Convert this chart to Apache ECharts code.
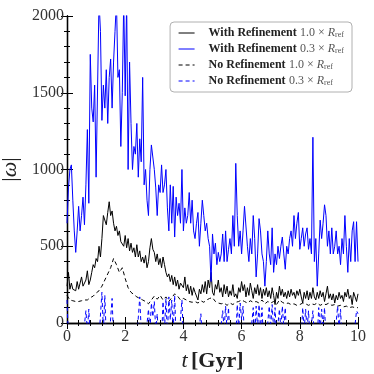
<!DOCTYPE html>
<html>
<head>
<meta charset="utf-8">
<script src="https://cdn.jsdelivr.net/npm/echarts@6/dist/echarts.min.js"></script>
<style>
  html, body { margin: 0; padding: 0; background: #fff; }
  #chart { width: 374px; height: 374px; }
</style>
</head>
<body>
<div id="chart"></div>
<script>
  // sampling step of the runs, Gyr
  const stepFine = 0.05;
  const stepCoarse = 0.1;

  const xTicks = [0, 2, 4, 6, 8, 10];
  const yTicks = [0, 500, 1000, 1500, 2000];

  // With Refinement 0.3 x R_ref (step 0.05)
  const withRef03 = [
    650, 880, 1000, 1030, 800, 600, 460, 600, 760, 600, 700, 820, 640, 900, 1260, 780, 1750, 1400, 1310, 1550,
    950, 940, 2100, 1900, 1320, 1550, 1400, 1650, 1300, 1600, 1720, 1400, 1700, 1900, 2100, 1600, 1650, 1150, 1500, 2100,
    1480, 2100, 1000, 1700, 1300, 1000, 1150, 1100, 1300, 950, 1200, 1050, 1600, 900, 1000, 800, 700, 1000, 1160, 1150,
    1000, 880, 700, 900, 850, 1030, 850, 900, 1000, 750, 600, 900, 650, 890, 560, 820, 700, 780, 650, 1000,
    600, 750, 650, 700, 850, 650, 800, 600, 550, 650, 720, 500, 650, 800, 700, 600, 650, 550, 500, 270,
    580, 450, 520, 380, 460, 400, 450, 580, 400, 600, 400, 480, 550, 450, 700, 500, 1040, 700, 500, 600,
    450, 600, 760, 750, 500, 400, 550, 450, 700, 550, 300, 450, 680, 600, 450, 400, 240, 400, 600, 450,
    380, 620, 330, 450, 380, 500, 420, 500, 560, 450, 350, 500, 450, 550, 600, 500, 700, 550, 650, 720,
    480, 550, 620, 500, 580, 620, 480, 550, 450, 1210, 400, 550, 240, 450, 670, 550, 650, 770, 700, 500,
    600, 450, 620, 450, 500, 600, 450, 500, 380, 550, 450, 700, 500, 330, 550, 400, 600, 660, 400, 660,
    400
  ];

  // With Refinement 1.0 x R_ref (step 0.05)
  const withRef10 = [
    240, 330, 220, 260, 220, 230, 210, 270, 220, 230, 300, 240, 230, 280, 340, 250, 280, 330, 380, 360,
    420, 400, 500, 430, 550, 700, 690, 640, 720, 790, 700, 730, 650, 600, 630, 570, 600, 530, 540, 500,
    570, 490, 550, 470, 520, 460, 490, 430, 510, 430, 470, 400, 430, 390, 440, 360, 400, 490, 550, 480,
    460, 400, 450, 380, 420, 360, 430, 380, 330, 300, 320, 270, 310, 250, 300, 240, 280, 220, 260, 250,
    230, 300, 210, 250, 190, 240, 180, 230, 200, 210, 150, 220, 190, 250, 200, 270, 190, 280, 230, 330,
    200, 180, 250, 220, 280, 200, 230, 170, 250, 190, 240, 170, 210, 180, 250, 170, 190, 160, 230, 200,
    270, 210, 250, 170, 230, 180, 260, 210, 160, 230, 190, 250, 180, 230, 160, 220, 180, 230, 170, 210,
    160, 230, 180, 120, 200, 160, 240, 180, 220, 170, 200, 160, 210, 170, 220, 180, 200, 160, 210, 180,
    220, 170, 130, 200, 160, 210, 150, 200, 160, 230, 170, 150, 200, 160, 210, 170, 200, 140, 190, 240,
    160, 190, 150, 190, 130, 180, 150, 200, 160, 180, 140, 200, 170, 220, 160, 180, 120, 200, 170, 140,
    190
  ];

  // No Refinement 1.0 x R_ref (step 0.1)
  const noRef10 = [
    180, 150, 145, 140, 140, 145, 150, 150, 165, 175,
    195, 210, 240, 280, 320, 360, 420, 380, 330, 360,
    290, 230, 200, 185, 170, 160, 150, 140, 125, 150,
    175, 155, 180, 150, 170, 140, 165, 190, 175, 150,
    160, 150, 140, 135, 140, 130, 145, 135, 150, 160,
    165, 140, 130, 125, 130, 115, 130, 120, 135, 140,
    150, 140, 130, 145, 135, 140, 130, 150, 125, 140,
    130, 140, 120, 150, 135, 125, 130, 120, 125, 115,
    120, 130, 125, 115, 125, 120, 130, 115, 125, 120,
    130, 115, 120, 110, 115, 105, 110, 100, 105, 100,
    100
  ];

  // No Refinement 0.3 x R_ref (step 0.05), mostly below the axis
  const noRef03 = [
    150, -100, -100, -100, -100, -100, -100, -100, -100, -100, -100, -100, -100, 80, -50, 90, -100, -100, -100, -100,
    -100, -100, -100, -100, 200, -50, 180, -100, -100, -100, -100, 160, -100, -100, -100, -100, -100, -100, -100, -100,
    -100, -100, -100, -100, -100, -100, -100, -100, -100, -100, 170, -50, -100, -100, -100, -100, 90, -50, 130, 40,
    140, -50, 60, -100, -100, -100, 140, -50, 160, -80, 170, 20, 150, -50, 180, -100, -100, -100, -100, 150,
    -100, -100, -100, -100, -100, -100, -100, -100, -100, -100, -100, -100, 60, -100, -100, -100, -100, -100, -100, -100,
    -100, -100, -100, -100, -100, -100, -100, 80, -40, 110, -50, 100, -100, -100, -100, -100, -100, 120, -40, 130,
    20, 110, -100, -100, -100, -100, -100, -100, 100, -100, 110, -30, 120, -40, 100, -100, -100, -100, -100, 110,
    -30, 120, -50, 100, -100, -100, 90, -40, 110, -30, 100, -100, -100, -100, -100, -100, -100, -100, -100, -100,
    -100, -100, 100, -50, 90, -40, 80, -100, -100, 80, -100, -100, -100, 100, -40, 90, -30, 100, -100, -100,
    -100, -100, -100, -100, -100, -100, 110, -40, 90, -100, -100, -100, -100, -100, -100, -100, -100, -100, -100, 80,
    60
  ];

  function toPairs(vals, step) {
    return vals.map((v, i) => [+(i * step).toFixed(2), v]);
  }

  const serif = 'Liberation Serif';
  const legendNames = {
    'With Refinement 1.0': '{b|With Refinement} {n|1.0 × }{i|R}{s|ref}',
    'With Refinement 0.3': '{b|With Refinement} {n|0.3 × }{i|R}{s|ref}',
    'No Refinement 1.0': '{b|No Refinement} {n|1.0 × }{i|R}{s|ref}',
    'No Refinement 0.3': '{b|No Refinement} {n|0.3 × }{i|R}{s|ref}'
  };

  const tickStyle = { inside: true, length: 6, lineStyle: { color: '#000', width: 1 } };
  const minorStyle = { show: true, splitNumber: 5, length: 3, lineStyle: { color: '#000', width: 1 } };
  const lineAxis = { show: true, lineStyle: { color: '#000', width: 1.3 } };

  const chart = echarts.init(document.getElementById('chart'));
  chart.setOption({
    backgroundColor: '#fff',
    animation: false,
    grid: { left: 67, right: 16, top: 16, bottom: 51, containLabel: false, outerBoundsMode: 'none' },
    legend: {
      orient: 'vertical',
      right: 22,
      top: 22,
      padding: [5, 8, 5, 8],
      itemGap: 4,
      itemWidth: 16,
      itemHeight: 10,
      backgroundColor: '#fff',
      borderColor: '#b0b0b0',
      borderWidth: 1,
      borderRadius: 4,
      itemStyle: { opacity: 0 },
      lineStyle: { width: 1 },
      data: Object.keys(legendNames),
      formatter: name => legendNames[name],
      textStyle: {
        rich: {
          b: { fontFamily: serif, fontWeight: 'bold', fontSize: 12, color: '#222', padding: [0, 0, 0, 9] },
          n: { fontFamily: serif, fontSize: 12, color: '#555' },
          i: { fontFamily: serif, fontStyle: 'italic', fontSize: 12, color: '#555' },
          s: { fontFamily: serif, fontSize: 8, color: '#555', verticalAlign: 'bottom', padding: [4, 0, 0, 0] }
        }
      }
    },
    xAxis: [
      {
        type: 'value', min: 0, max: 10, interval: 2,
        axisLine: lineAxis, axisTick: tickStyle, minorTick: minorStyle,
        splitLine: { show: false },
        axisLabel: { fontFamily: serif, fontSize: 16, color: '#333', margin: 6,
          formatter: v => xTicks.includes(v) ? String(v) : '' },
        name: '{i|t} {b|[Gyr]}',
        nameLocation: 'middle',
        nameGap: 22,
        nameTextStyle: {
          rich: {
            i: { fontFamily: serif, fontStyle: 'italic', fontSize: 22, color: '#222' },
            b: { fontFamily: serif, fontWeight: 'bold', fontSize: 22, color: '#222' }
          }
        }
      },
      {
        type: 'value', position: 'top', min: 0, max: 10, interval: 2,
        axisLine: lineAxis, axisTick: tickStyle, minorTick: minorStyle,
        splitLine: { show: false }, axisLabel: { show: false }
      }
    ],
    yAxis: [
      {
        type: 'value', min: 0, max: 2000, interval: 500,
        axisLine: lineAxis, axisTick: tickStyle, minorTick: minorStyle,
        splitLine: { show: false },
        axisLabel: { fontFamily: serif, fontSize: 16, color: '#333', margin: 3,
          formatter: v => yTicks.includes(v) ? String(v) : '' },
        name: '{a||}{w|ω}{a||}',
        nameLocation: 'middle',
        nameGap: 38,
        nameTextStyle: {
          rich: {
            a: { fontFamily: serif, fontSize: 22, color: '#222' },
            w: { fontFamily: serif, fontStyle: 'italic', fontSize: 22, color: '#222' }
          }
        }
      },
      {
        type: 'value', position: 'right', min: 0, max: 2000, interval: 500,
        axisLine: lineAxis, axisTick: tickStyle, minorTick: minorStyle,
        splitLine: { show: false }, axisLabel: { show: false }
      }
    ],
    series: [
      {
        name: 'With Refinement 1.0', type: 'line', data: toPairs(withRef10, stepFine),
        symbol: 'none', clip: true,
        lineStyle: { color: '#000', width: 1 }, itemStyle: { color: '#000' }
      },
      {
        name: 'With Refinement 0.3', type: 'line', data: toPairs(withRef03, stepFine),
        symbol: 'none', clip: true,
        lineStyle: { color: '#0000ff', width: 1 }, itemStyle: { color: '#0000ff' }
      },
      {
        name: 'No Refinement 1.0', type: 'line', data: toPairs(noRef10, stepCoarse),
        symbol: 'none', clip: true,
        lineStyle: { color: '#000', width: 1, type: [4, 3] }, itemStyle: { color: '#000' }
      },
      {
        name: 'No Refinement 0.3', type: 'line', data: toPairs(noRef03, stepFine),
        symbol: 'none', clip: true,
        lineStyle: { color: '#0000ff', width: 1, type: [4, 3] }, itemStyle: { color: '#0000ff' }
      }
    ]
  });
</script>
</body>
</html>
